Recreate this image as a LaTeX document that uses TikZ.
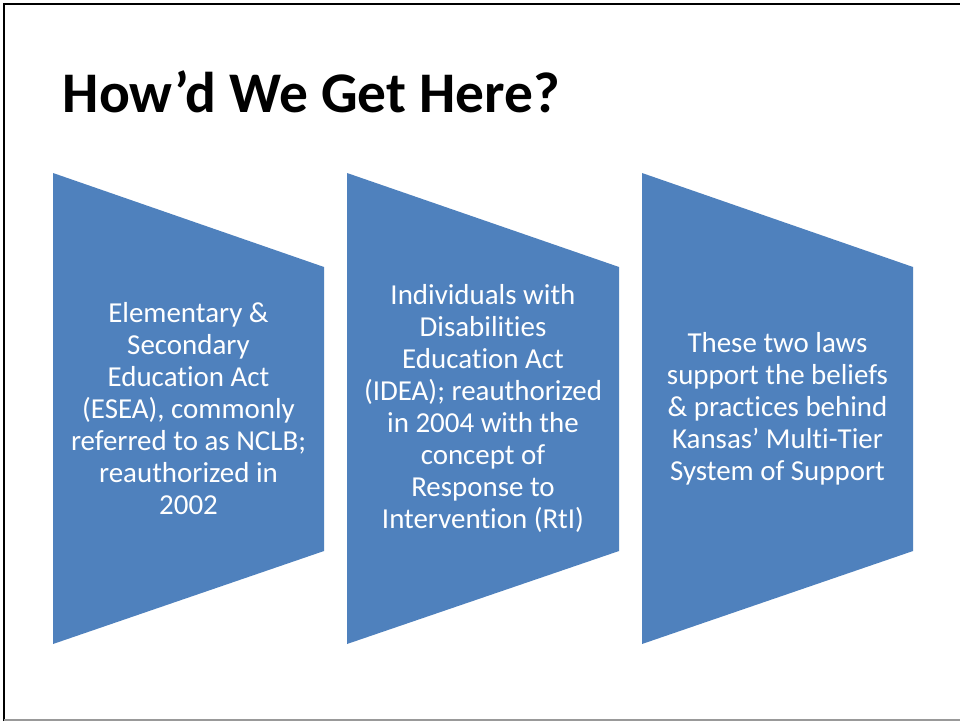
\documentclass[tikz,border=0pt]{standalone}
\usepackage{fontspec}
\setmainfont{Carlito}[Ligatures={NoCommon,NoContextual}]
\definecolor{slideblue}{HTML}{4F81BD}
\begin{document}
\begin{tikzpicture}[x=0.75pt,y=-0.75pt,
  chevron/.style={fill=slideblue,draw=none},
  bodytext/.style={text=white,align=center,font=\fontsize{21.7}{24}\selectfont,inner sep=0pt},
  titletext/.style={anchor=base west,font=\fontsize{43.1}{52}\selectfont\bfseries,inner sep=0pt}]
\useasboundingbox (0,0) rectangle (960,721);
\fill[white] (0,0) rectangle (960,721);
% frame
\draw[black,line width=1.5pt] (4,721) -- (4,4) -- (960,4);
\draw[gray!80,line width=0.8pt] (4,720) -- (960,720);
% title
\node[titletext] (title) at (62.5,112) {How’d We Get Here?};
% shapes
\fill[chevron] (53,173) -- (324,267) -- (324,551) -- (53,644) -- cycle;
\fill[chevron] (347,173) -- (619,267) -- (619,551) -- (347,644) -- cycle;
\fill[chevron] (642,173) -- (913,267) -- (913,551) -- (642,644) -- cycle;
\node[bodytext] (t1) at (188.5,408.5) {Elementary \&\\Secondary\\Education Act\\(ESEA), commonly\\referred to as NCLB;\\reauthorized in\\2002};
\node[bodytext] (t2) at (483,408.5) {Individuals with\\Disabilities\\Education Act\\(IDEA); reauthorized\\in 2004 with the\\concept of\\Response to\\Intervention (RtI)};
\node[bodytext] (t3) at (777.5,408.5) {These two laws\\support the beliefs\\\& practices behind\\Kansas’ Multi-Tier\\System of Support};
\end{tikzpicture}
\end{document}
